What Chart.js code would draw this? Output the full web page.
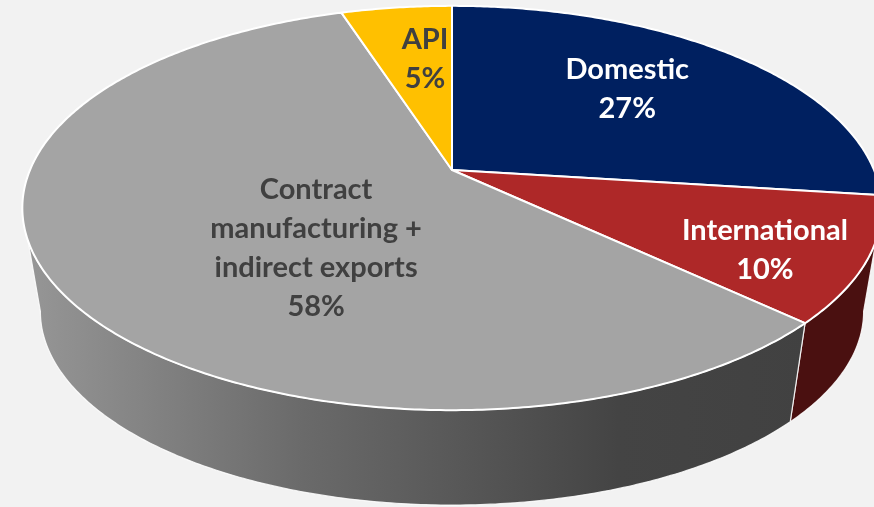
<!DOCTYPE html>
<html lang="en">
<head>
<meta charset="UTF-8">
<script src="https://cdn.jsdelivr.net/npm/chart.js"></script>
<title>Revenue split</title>
<style>
  body { margin: 0; background: #f2f2f2; }
  canvas { display: block; }
</style>
</head>
<body>
<canvas id="pie" width="874" height="507"></canvas>
<script>
const categories = ["Domestic", "International", "Contract manufacturing + indirect exports", "API"];
const shares = [27, 10, 58, 5];
const labelLines = [["Domestic"], ["International"], ["Contract", "manufacturing +", "indirect exports"], ["API"]];

const topColors = ["#002060", "#ae2828", "#a4a4a4", "#ffc000"];
const sideColors = ["#00163f", "#4a1010", null, "#a37a00"];
const textColors = ["#ffffff", "#ffffff", "#404040", "#404040"];
// where each label sits: [angle shift from slice middle (deg), radius fraction]
const labelSpots = [[-3.6, 0.637], [3.8, 0.787], [-18.8, 0.478], [2.6, 0.642]];

// fake perspective for the tilted pie
const view = { cx: 452, cy: 170, rx: 422, ry: 195, k: 0.188, depth: 105, shrink: 0.958 };

function project(t, r, bottom) {
    const X = r * Math.cos(t), Y = r * Math.sin(t);
    const s = 1 / (1 - view.k * Y);
    const m = bottom ? view.shrink : 1;
    return [view.cx + view.rx * m * X * s, view.cy + (bottom ? view.depth : 0) + view.ry * m * Y * s];
}

function curve(t0, t1, bottom) {
    const n = Math.max(2, Math.ceil(Math.abs(t1 - t0) / 0.01));
    const pts = [];
    for (let i = 0; i <= n; i++) pts.push(project(t0 + (t1 - t0) * i / n, 1, bottom));
    return pts;
}

function sideFill(ctx, i) {
    if (sideColors[i]) return sideColors[i];
    const g = ctx.createLinearGradient(22, 0, 874, 0);
    g.addColorStop(0, "#979797");
    g.addColorStop(0.33, "#6a6a6a");
    g.addColorStop(0.5, "#595959");
    g.addColorStop(0.7, "#444444");
    g.addColorStop(1, "#404040");
    return g;
}

const pie3d = {
    id: "pie3d",
    beforeDatasetsDraw(chart) {
        const ctx = chart.ctx;
        const arcs = chart.getDatasetMeta(0).data;
        const lo = Math.asin(view.k), hi = Math.PI - lo;
        ctx.save();
        ctx.lineJoin = "round";

        // front walls
        arcs.forEach((arc, i) => {
            const a0 = Math.max(arc.startAngle, lo), a1 = Math.min(arc.endAngle, hi);
            if (a1 <= a0) return;
            const pts = curve(a0, a1, false).concat(curve(a1, a0, true));
            ctx.beginPath();
            pts.forEach((p, j) => j ? ctx.lineTo(p[0], p[1]) : ctx.moveTo(p[0], p[1]));
            ctx.closePath();
            ctx.fillStyle = sideFill(ctx, i);
            ctx.fill();
            ctx.strokeStyle = "rgba(255,255,255,0.85)";
            ctx.lineWidth = 1.2;
            ctx.stroke();
        });

        // top faces
        arcs.forEach((arc, i) => {
            const pts = curve(arc.startAngle, arc.endAngle, false);
            ctx.beginPath();
            ctx.moveTo(view.cx, view.cy);
            pts.forEach(p => ctx.lineTo(p[0], p[1]));
            ctx.closePath();
            ctx.fillStyle = topColors[i];
            ctx.fill();
            ctx.strokeStyle = "#ffffff";
            ctx.lineWidth = 2;
            ctx.stroke();
        });

        // labels
        const total = shares.reduce((a, b) => a + b, 0);
        ctx.font = "bold 29px Lato";
        ctx.textAlign = "center";
        ctx.textBaseline = "middle";
        arcs.forEach((arc, i) => {
            const mid = (arc.startAngle + arc.endAngle) / 2 + labelSpots[i][0] * Math.PI / 180;
            const p = project(mid, labelSpots[i][1], false);
            const lines = labelLines[i].concat([Math.round(shares[i] / total * 100) + "%"]);
            const lh = 39;
            const y0 = p[1] - (lines.length - 1) * lh / 2;
            ctx.fillStyle = textColors[i];
            lines.forEach((line, j) => ctx.fillText(line, p[0], y0 + j * lh));
        });

        ctx.restore();
        return false;
    }
};

new Chart(document.getElementById("pie"), {
    type: "pie",
    data: {
        labels: categories,
        datasets: [{
            data: shares,
            backgroundColor: topColors,
            borderColor: "#ffffff"
        }]
    },
    options: {
        responsive: false,
        animation: false,
        plugins: {
            legend: { display: false },
            tooltip: { enabled: false }
        }
    },
    plugins: [pie3d]
});
</script>
</body>
</html>
